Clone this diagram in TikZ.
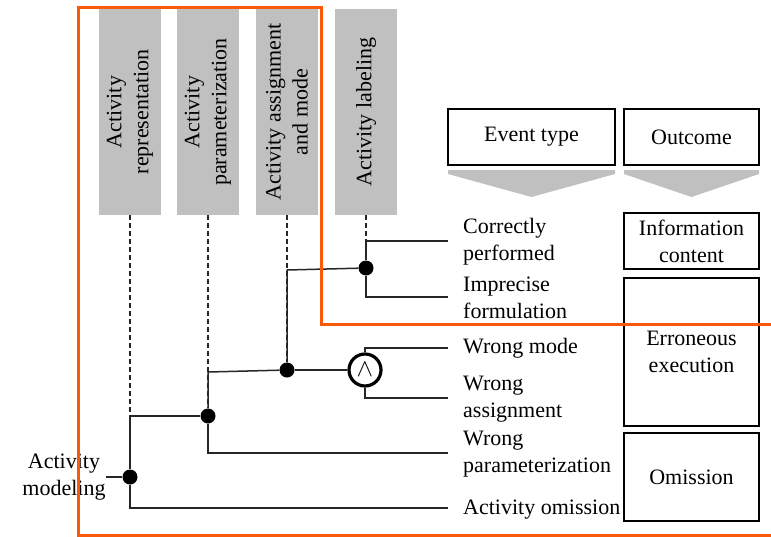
\documentclass[tikz,border=0pt]{standalone}
\usepackage{fontspec}
\setmainfont{Liberation Serif}
\definecolor{catgray}{RGB}{192,192,192}
\definecolor{frameorange}{RGB}{250,88,10}

\begin{document}
\begin{tikzpicture}[x=1pt,y=-1pt,
 every node/.style={font=\fontsize{22}{27}\selectfont},
 cat/.style={rotate=90,fill=catgray,minimum width=206pt,minimum height=62pt,inner sep=0pt,align=center},
 lbl/.style={anchor=west,align=left,inner sep=0pt},
 outbox/.style={draw,line width=1.4pt,minimum width=135pt,align=center,inner sep=0pt},
 dot/.style={circle,fill,inner sep=0pt,minimum size=15pt},
 andgate/.style={circle,draw,line width=3.2pt,fill=white,inner sep=0pt,minimum size=32pt,font=\fontsize{30}{30}\selectfont},
 conn/.style={line width=1.5pt,black!85},
 dashconn/.style={conn,dash pattern=on 5pt off 3pt}]
\useasboundingbox (0,0) rectangle (771,536);

% category headers
\node[cat] (c1) at (130,112) {Activity\\representation};
\node[cat] (c2) at (208,112) {Activity\\parameterization};
\node[cat] (c3) at (287,112) {Activity assignment\\and mode};
\node[cat] (c4) at (366,112) {Activity labeling};

% column headers
\node[outbox,minimum width=167pt,minimum height=56pt] (ev) at (531.5,137) {Event type};
\node[outbox,minimum height=56pt] (oc) at (691.5,137) {Outcome};
\fill[catgray] (448,170) -- (615,170) -- (615,174) -- (531.5,197) -- (448,174) -- cycle;
\fill[catgray] (624,170) -- (759,170) -- (759,174) -- (691.5,197) -- (624,174) -- cycle;

% outcomes
\node[outbox,minimum height=56pt] (ic) at (691.5,241) {Information\\content};
\node[outbox,minimum height=148pt] (ee) at (691.5,352) {Erroneous\\execution};
\node[outbox,minimum height=88pt] (om) at (691.5,477) {Omission};

% event types
\foreach \y/\t in {242/{Correctly\\performed},298/{Imprecise\\formulation},348/{Wrong mode},
 399/{Wrong\\assignment},454/{Wrong\\parameterization},510/{Activity omission}}
 \node[lbl] at (463,\y) {\t};
\coordinate (e1) at (448,241);
\coordinate (e2) at (448,297);
\coordinate (e3) at (448,348);
\coordinate (e4) at (448,398);
\coordinate (e5) at (448,453);
\coordinate (e6) at (448,508);

% tree
\node[dot] (d1) at (130,477) {};
\node[dot] (d2) at (208,416) {};
\node[dot] (d3) at (287,370) {};
\node[dot] (d4) at (366,268) {};
\node[andgate] (g) at (365,370) {$\wedge$};
\node[align=center,inner sep=0pt] (am) at (64,477) {Activity\\modeling};

\draw[dashconn] (c1.west) -- (d1);
\draw[dashconn] (c2.west) -- (d2);
\draw[dashconn] (c3.west) -- (d3);
\draw[dashconn] (c4.west) -- (c4.west |- e1);
\draw[conn] (am.east) -- (d1);
\draw[conn] (d2) -- (d2 -| d1) -- (d1);
\draw[conn] (d3) -- (208,372) -- (d2);
\draw[conn] (d4) -- (287,270) -- (d3);
\draw[conn] (d3) -- (g);
\draw[conn] (e1) -| (d4);
\draw[conn] (d4) |- (e2);
\draw[conn] (g) |- (e3);
\draw[conn] (g) |- (e4);
\draw[conn] (d2) |- (e5);
\draw[conn] (d1) |- (e6);

% frame
\draw[frameorange,line width=3pt] (771,324) -- (321,324) -- (321,7) -- (78,7) -- (78,535) -- (771,535);
\end{tikzpicture}
\end{document}
